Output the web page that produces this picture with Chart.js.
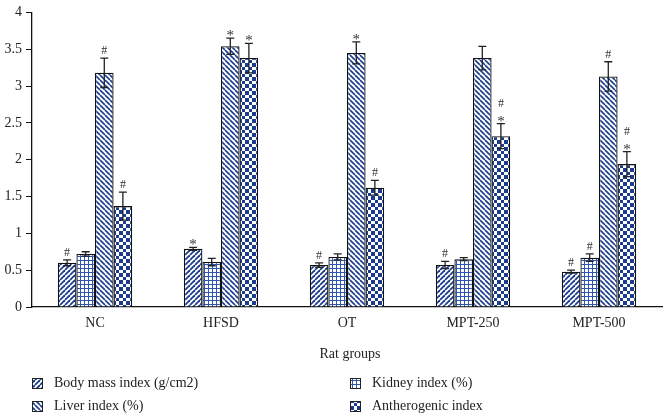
<!DOCTYPE html>
<html>
<head>
<meta charset="utf-8">
<script src="https://cdn.jsdelivr.net/npm/chart.js@4"></script>
<style>
html,body{margin:0;padding:0;background:#fff;}
#wrap{width:666px;height:416px;position:relative;}
</style>
</head>
<body>
<div id="wrap"><canvas id="c" width="666" height="416"></canvas></div>
<script>
const categories = ['NC', 'HFSD', 'OT', 'MPT-250', 'MPT-500'];
const seriesNames = ['Body mass index (g/cm2)', 'Kidney index (%)', 'Liver index (%)', 'Antherogenic index'];
const bodyMass = [0.60, 0.79, 0.57, 0.57, 0.48];
const bodyMassErr = [0.04, 0.02, 0.03, 0.05, 0.02];
const kidney = [0.72, 0.61, 0.68, 0.65, 0.67];
const kidneyErr = [0.03, 0.05, 0.04, 0.02, 0.05];
const liver = [3.18, 3.54, 3.45, 3.38, 3.13];
const liverErr = [0.20, 0.11, 0.15, 0.16, 0.20];
const anther = [1.37, 3.38, 1.62, 2.32, 1.94];
const antherErr = [0.19, 0.20, 0.10, 0.17, 0.17];
const bodyMassSig = ['#', '*', '#', '#', '#'];
const kidneySig = ['', '', '', '', '#'];
const liverSig = ['#', '*', '*', '', '#'];
const antherSig = ['#', '*', '#', '#*', '#*'];
const yTicks = [0, 0.5, 1, 1.5, 2, 2.5, 3, 3.5, 4];
const yTickLabels = ['0', '0.5', '1', '1.5', '2', '2.5', '3', '3.5', '4'];

const canvas = document.getElementById('c');
const ctx = canvas.getContext('2d');
const NAVY = '#1b3c8e';

function mkPattern(size, draw) {
  const c = document.createElement('canvas');
  c.width = c.height = size;
  const g = c.getContext('2d');
  g.fillStyle = '#fff';
  g.fillRect(0, 0, size, size);
  draw(g, size);
  return ctx.createPattern(c, 'repeat');
}
const patSlash = mkPattern(5, (g, s) => {
  g.strokeStyle = NAVY; g.lineWidth = 1.8;
  for (let k = -1; k <= 1; k++) { g.beginPath(); g.moveTo(k * s, s); g.lineTo(k * s + s, 0); g.stroke(); }
});
const patBack = mkPattern(5, (g, s) => {
  g.strokeStyle = NAVY; g.lineWidth = 1.6;
  for (let k = -1; k <= 1; k++) { g.beginPath(); g.moveTo(k * s, 0); g.lineTo(k * s + s, s); g.stroke(); }
});
const patGrid = mkPattern(4, (g, s) => {
  g.fillStyle = '#2d55b0';
  g.fillRect(0, 0, s, 1);
  g.fillRect(0, 0, 1, s);
});
const patCheck = mkPattern(7, (g, s) => {
  g.fillStyle = NAVY;
  g.fillRect(0, 0, 4, 4);
  g.fillRect(4, 4, 3, 3);
});
const patterns = [patSlash, patGrid, patBack, patCheck];
const values = [bodyMass, kidney, liver, anther];
const errs = [bodyMassErr, kidneyErr, liverErr, antherErr];
const sigs = [bodyMassSig, kidneySig, liverSig, antherSig];

const FONT = '"Liberation Serif", "DejaVu Serif", serif';

const errPlugin = {
  id: 'err',
  afterDatasetsDraw(chart) {
    const c = chart.ctx, y = chart.scales.y;
    c.save();
    values.forEach((vals, i) => {
      const meta = chart.getDatasetMeta(i);
      meta.data.forEach((el, j) => {
        const x = el.x;
        const top = y.getPixelForValue(vals[j] + errs[i][j]);
        const bot = y.getPixelForValue(vals[j] - errs[i][j]);
        c.strokeStyle = '#222'; c.lineWidth = 1.3;
        c.beginPath();
        c.moveTo(x, top); c.lineTo(x, bot);
        c.moveTo(x - 4, top); c.lineTo(x + 4, top);
        c.moveTo(x - 4, bot); c.lineTo(x + 4, bot);
        c.stroke();
        const s = sigs[i][j];
        c.fillStyle = '#333';
        c.textAlign = 'center';
        c.textBaseline = 'alphabetic';
        let yy = top - 4;
        for (let k = s.length - 1; k >= 0; k--) {
          const ch = s[k];
          if (ch === '*') { c.font = '15px ' + FONT; c.fillText('*', x, yy + 6); yy -= 13; }
          else { c.font = '12px ' + FONT; c.fillText('#', x, yy); yy -= 13; }
        }
      });
    });
    c.restore();
  }
};

const legendPlugin = {
  id: 'customLegend',
  afterDraw(chart) {
    const c = chart.ctx;
    c.save();
    c.font = '14px ' + FONT;
    c.fillStyle = '#222';
    c.textAlign = 'center';
    c.textBaseline = 'middle';
    c.fillText('Rat groups', 350, 354);
    c.textAlign = 'left';
    const pos = [[32, 383], [350, 383], [32, 406], [350, 406]];
    seriesNames.forEach((n, i) => {
      const [x, yy] = pos[i];
      c.fillStyle = patterns[i];
      c.fillRect(x, yy - 5, 10, 10);
      c.strokeStyle = '#222'; c.lineWidth = 1;
      c.strokeRect(x + 0.5, yy - 5 + 0.5, 10, 10);
      c.fillStyle = '#222';
      c.fillText(n, x + 22, yy);
    });
    c.restore();
  }
};

new Chart(canvas, {
  type: 'bar',
  data: {
    labels: categories,
    datasets: seriesNames.map((n, i) => ({
      label: n,
      data: values[i],
      backgroundColor: patterns[i],
      borderColor: '#111',
      borderWidth: 1.3,
      borderSkipped: 'bottom',
      categoryPercentage: 0.59,
      barPercentage: 1.0
    }))
  },
  options: {
    responsive: false,
    animation: false,
    layout: { padding: { top: 6, right: 4, left: 0, bottom: 0 } },
    plugins: { legend: { display: false }, tooltip: { enabled: false } },
    scales: {
      x: {
        grid: { display: false, drawTicks: false },
        border: { display: true, color: '#111', width: 1.3 },
        ticks: { color: '#222', font: { family: FONT, size: 14 }, padding: 8 },
        afterFit(s) { s.height = 109; }
      },
      y: {
        min: 0, max: 4,
        afterBuildTicks(s) { s.ticks = yTicks.map(v => ({ value: v })); },
        grid: { display: true, drawOnChartArea: false, drawTicks: true, tickLength: 6, color: '#111' },
        border: { display: true, color: '#111', width: 1.3 },
        ticks: {
          color: '#222', font: { family: FONT, size: 14 }, padding: 4,
          callback: (v) => yTickLabels[yTicks.indexOf(v)] ?? String(v)
        },
        afterFit(s) { s.width = 32; }
      }
    }
  },
  plugins: [errPlugin, legendPlugin]
});
</script>
</body>
</html>
